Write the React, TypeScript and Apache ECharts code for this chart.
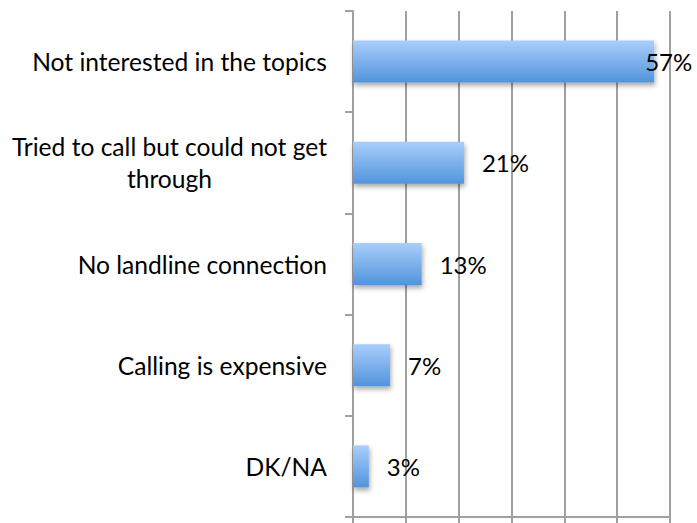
import React, { useEffect, useRef } from "react";
import * as echarts from "echarts";

const categories = [
  "Not interested in the topics",
  "Tried to call but could not get\nthrough",
  "No landline connection",
  "Calling is expensive",
  "DK/NA",
];
const values = [57, 21, 13, 7, 3];
const axisMax = 60;
const axisInterval = 10;

export default function App() {
  const ref = useRef<HTMLDivElement>(null);
  useEffect(() => {
    document.body.style.margin = "0";
    const chart = echarts.init(ref.current!, null, { renderer: "svg" });
    const gray = "#a0a0a0";
    chart.setOption({
      animation: false,
      backgroundColor: "#ffffff",
      textStyle: { fontFamily: "Lato" },
      grid: { left: 353, right: 27, top: 11, bottom: 6, containLabel: false },
      xAxis: {
        type: "value",
        min: 0,
        max: axisMax,
        interval: axisInterval,
        axisLabel: { show: false },
        axisLine: { show: true, lineStyle: { color: gray, width: 2 } },
        axisTick: { show: true, length: 6, lineStyle: { color: gray, width: 2 } },
        splitLine: { show: true, lineStyle: { color: gray, width: 2 } },
      },
      yAxis: {
        type: "category",
        inverse: true,
        data: categories,
        axisLine: { show: true, lineStyle: { color: gray, width: 2 } },
        axisTick: { show: true, length: 8, alignWithLabel: false, lineStyle: { color: gray, width: 2 } },
        axisLabel: {
          margin: 26,
          color: "#000",
          fontFamily: "Lato",
          fontSize: 24.6,
          lineHeight: 32,
          formatter: (v: string) =>
            v
              .split("\n")
              .map((l) => `{c|${l}}`)
              .join("\n"),
          rich: {
            c: { align: "center", fontFamily: "Lato", fontSize: 24.6, lineHeight: 32, color: "#000" },
          },
        },
      },
      series: [
        {
          type: "bar",
          barWidth: 42,
          data: values.map((v, i) =>
            i === 0 ? { value: v, label: { offset: [-27, 0] } } : { value: v }
          ),
          itemStyle: {
            color: new echarts.graphic.LinearGradient(0, 0, 0, 1, [
              { offset: 0, color: "#a9cefc" },
              { offset: 1, color: "#5194dc" },
            ]),
            shadowColor: "rgba(0,0,0,0.35)",
            shadowBlur: 5,
            shadowOffsetY: 3,
            shadowOffsetX: 1,
          },
          label: {
            show: true,
            position: "right",
            distance: 18,
            formatter: "{c}%",
            color: "#000",
            fontFamily: "Lato",
            fontSize: 24,
          },
        },
      ],
    });
    return () => chart.dispose();
  }, []);
  return (
    <div
      ref={ref}
      style={{ position: "absolute", left: 0, top: 0, width: 697, height: 523 }}
    />
  );
}
